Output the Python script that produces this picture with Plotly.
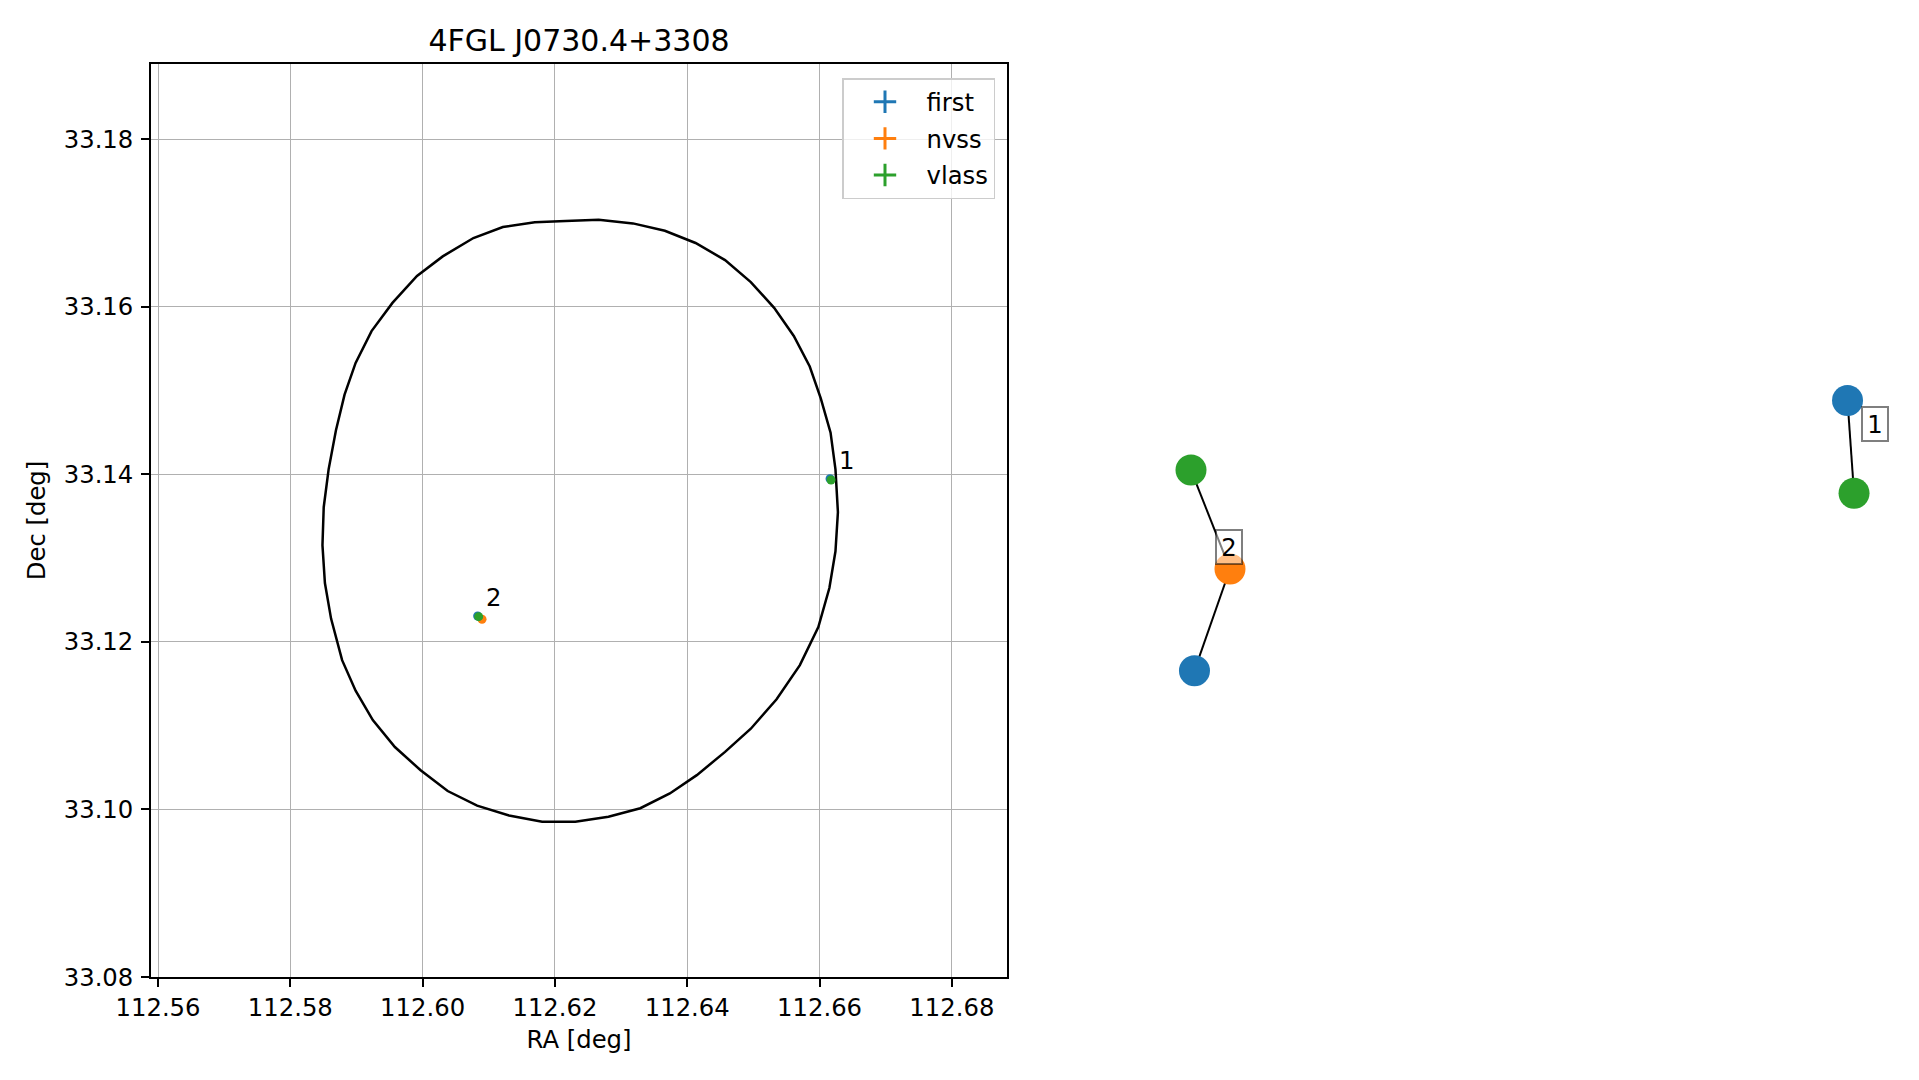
import plotly.graph_objects as go

# ---------------- data ----------------
TITLE = "4FGL J0730.4+3308"
CATALOGS = ["first", "nvss", "vlass"]
COLORS = {"first": "#1f77b4", "nvss": "#ff7f0e", "vlass": "#2ca02c"}

# sky positions of matched radio sources (deg)
SRC_CATALOG = ["first", "vlass", "first", "nvss", "vlass"]
SRC_GROUP = [1, 1, 2, 2, 2]
SRC_RA = [112.66159, 112.66174, 112.60832, 112.60898, 112.60847]
SRC_DEC = [33.13946, 33.13931, 33.12308, 33.12269, 33.12300]
GROUP_LABELS = ["1", "2"]

# 4FGL localisation ellipse vertices (deg)
ELLIPSE_RA = [112.62160, 112.62661, 112.63180, 112.63662, 112.64126, 112.64572, 112.64961,
              112.65314, 112.65611, 112.65852, 112.66019, 112.66167, 112.66241, 112.66278,
              112.66241, 112.66149, 112.65982, 112.65703, 112.65351, 112.64961, 112.64572,
              112.64145, 112.63737, 112.63291, 112.62809, 112.62308, 112.61807, 112.61306,
              112.60824, 112.60379, 112.59970, 112.59581, 112.59247, 112.58987, 112.58783,
              112.58616, 112.58523, 112.58486, 112.58505, 112.58579, 112.58690, 112.58820,
              112.58987, 112.59228, 112.59544, 112.59915, 112.60304, 112.60768, 112.61213,
              112.61696, 112.62160]
ELLIPSE_DEC = [33.17022, 33.17036, 33.16993, 33.16905, 33.16759, 33.16555, 33.16292,
               33.15985, 33.15650, 33.15285, 33.14905, 33.14496, 33.14058, 33.13547,
               33.13080, 33.12642, 33.12175, 33.11722, 33.11314, 33.10963, 33.10686,
               33.10409, 33.10190, 33.10014, 33.09912, 33.09854, 33.09854, 33.09927,
               33.10044, 33.10219, 33.10467, 33.10744, 33.11066, 33.11416, 33.11781,
               33.12277, 33.12701, 33.13153, 33.13606, 33.14058, 33.14525, 33.14949,
               33.15328, 33.15708, 33.16044, 33.16365, 33.16599, 33.16818, 33.16949,
               33.17007, 33.17022]

RA_TICKS = [112.56, 112.58, 112.60, 112.62, 112.64, 112.66, 112.68]
DEC_TICKS = [33.08, 33.10, 33.12, 33.14, 33.16, 33.18]
RA_RANGE = [112.55894, 112.68834]
DEC_RANGE = [33.08, 33.18895]

# match graph (layout units)
NODE_CATALOG = ["first", "vlass", "first", "nvss", "vlass"]
NODE_X = [0.9426, 0.9514, 0.0601, 0.1081, 0.0554]
NODE_Y = [0.6314, 0.5298, 0.3355, 0.4469, 0.5553]
EDGES = [(0, 1), (4, 3), (3, 2)]
GRAPH_LABEL_X = [0.9791, 0.1074]
GRAPH_LABEL_Y = [0.6062, 0.4715]

# ---------------- figure ----------------
FONT = "DejaVu Sans"
FS = 24.3
W, H = 1919, 1080
OFF = 8  # page body margin

def fx(px):
    return (px - OFF) / W

def fy(py):
    return 1 - (py - OFF) / H

fig = go.Figure()

fig.add_trace(go.Scatter(x=ELLIPSE_RA, y=ELLIPSE_DEC, mode="lines",
                         line=dict(color="black", width=2.5), showlegend=False,
                         hoverinfo="skip", xaxis="x", yaxis="y"))

for cat in CATALOGS:
    xs = [r for r, c in zip(SRC_RA, SRC_CATALOG) if c == cat]
    ys = [d for d, c in zip(SRC_DEC, SRC_CATALOG) if c == cat]
    fig.add_trace(go.Scatter(x=xs, y=ys, mode="markers",
                             marker=dict(color=COLORS[cat], size=9),
                             showlegend=False, xaxis="x", yaxis="y"))
    # legend entry (errorbar-like cross)
    fig.add_trace(go.Scatter(x=[None], y=[None], mode="markers", name=cat,
                             legendgroup=cat,
                             marker=dict(symbol="cross-thin-open", size=16,
                                         color=COLORS[cat],
                                         line=dict(color=COLORS[cat], width=3)),
                             xaxis="x", yaxis="y"))

annotations = []
for lab in GROUP_LABELS:
    g = int(lab)
    idx = SRC_GROUP.index(g)
    annotations.append(dict(x=SRC_RA[idx], y=SRC_DEC[idx], xref="x", yref="y",
                            text=lab, showarrow=False, xshift=16, yshift=18,
                            font=dict(family=FONT, size=FS, color="black")))

# graph edges
ex, ey = [], []
for a, b in EDGES:
    ex += [NODE_X[a], NODE_X[b], None]
    ey += [NODE_Y[a], NODE_Y[b], None]
fig.add_trace(go.Scatter(x=ex, y=ey, mode="lines", line=dict(color="black", width=2),
                         showlegend=False, hoverinfo="skip", xaxis="x2", yaxis="y2"))
for cat in CATALOGS:
    xs = [x for x, c in zip(NODE_X, NODE_CATALOG) if c == cat]
    ys = [y for y, c in zip(NODE_Y, NODE_CATALOG) if c == cat]
    fig.add_trace(go.Scatter(x=xs, y=ys, mode="markers",
                             marker=dict(color=COLORS[cat], size=31),
                             showlegend=False, xaxis="x2", yaxis="y2"))

for lab, lx, ly in zip(GROUP_LABELS, GRAPH_LABEL_X, GRAPH_LABEL_Y):
    annotations.append(dict(x=lx, y=ly, xref="x2", yref="y2", text=lab, showarrow=False,
                            font=dict(family=FONT, size=FS, color="black"),
                            bgcolor="rgba(255,255,255,0.5)", bordercolor="rgba(0,0,0,0.5)",
                            borderwidth=2, borderpad=2, width=20, height=28))

L, R, T, B = 151, 1007, 64, 977
axis_common = dict(showline=True, linecolor="black", linewidth=1.7, mirror=True,
                   ticks="outside", ticklen=8, tickwidth=1.5, tickcolor="black",
                   showgrid=True, gridcolor="#b0b0b0", gridwidth=1.4, zeroline=False,
                   automargin=False,
                   tickfont=dict(family=FONT, size=FS, color="black"))

fig.update_layout(
    width=W, height=H, autosize=False,
    margin=dict(l=0, r=0, t=0, b=0, autoexpand=False),
    paper_bgcolor="white", plot_bgcolor="white",
    font=dict(family=FONT, size=FS, color="black"),
    title=dict(text=TITLE, x=fx((L + R) / 2), xanchor="center",
               y=1 - 32.5 / H, yanchor="middle",
               font=dict(family=FONT, size=30, color="black")),
    xaxis=dict(domain=[fx(L), fx(R)], range=RA_RANGE, tickvals=RA_TICKS,
               ticktext=[f"{v:.2f}" for v in RA_TICKS],
               title=dict(text="RA [deg]", standoff=10,
                          font=dict(family=FONT, size=FS, color="black")),
               **axis_common),
    yaxis=dict(domain=[fy(B), fy(T)], range=DEC_RANGE, tickvals=DEC_TICKS,
               ticktext=[f"{v:.2f}" for v in DEC_TICKS],
               ticklabelstandoff=3,
               title=dict(text="Dec [deg]", standoff=11,
                          font=dict(family=FONT, size=FS, color="black")),
               **axis_common),
    xaxis2=dict(domain=[fx(1150), fx(1890)], range=[0, 1], visible=False,
                anchor="y2"),
    yaxis2=dict(domain=[fy(B), fy(T)], range=[0, 1], visible=False,
                anchor="x2"),
    legend=dict(x=fx(995), y=fy(78), xanchor="right", yanchor="top",
                bgcolor="rgba(255,255,255,0.8)", bordercolor="#cccccc", borderwidth=1.5,
                itemwidth=73, tracegroupgap=2,
                font=dict(family=FONT, size=FS, color="black")),
    annotations=annotations,
    showlegend=True,
)

fig.write_html("out.html")
